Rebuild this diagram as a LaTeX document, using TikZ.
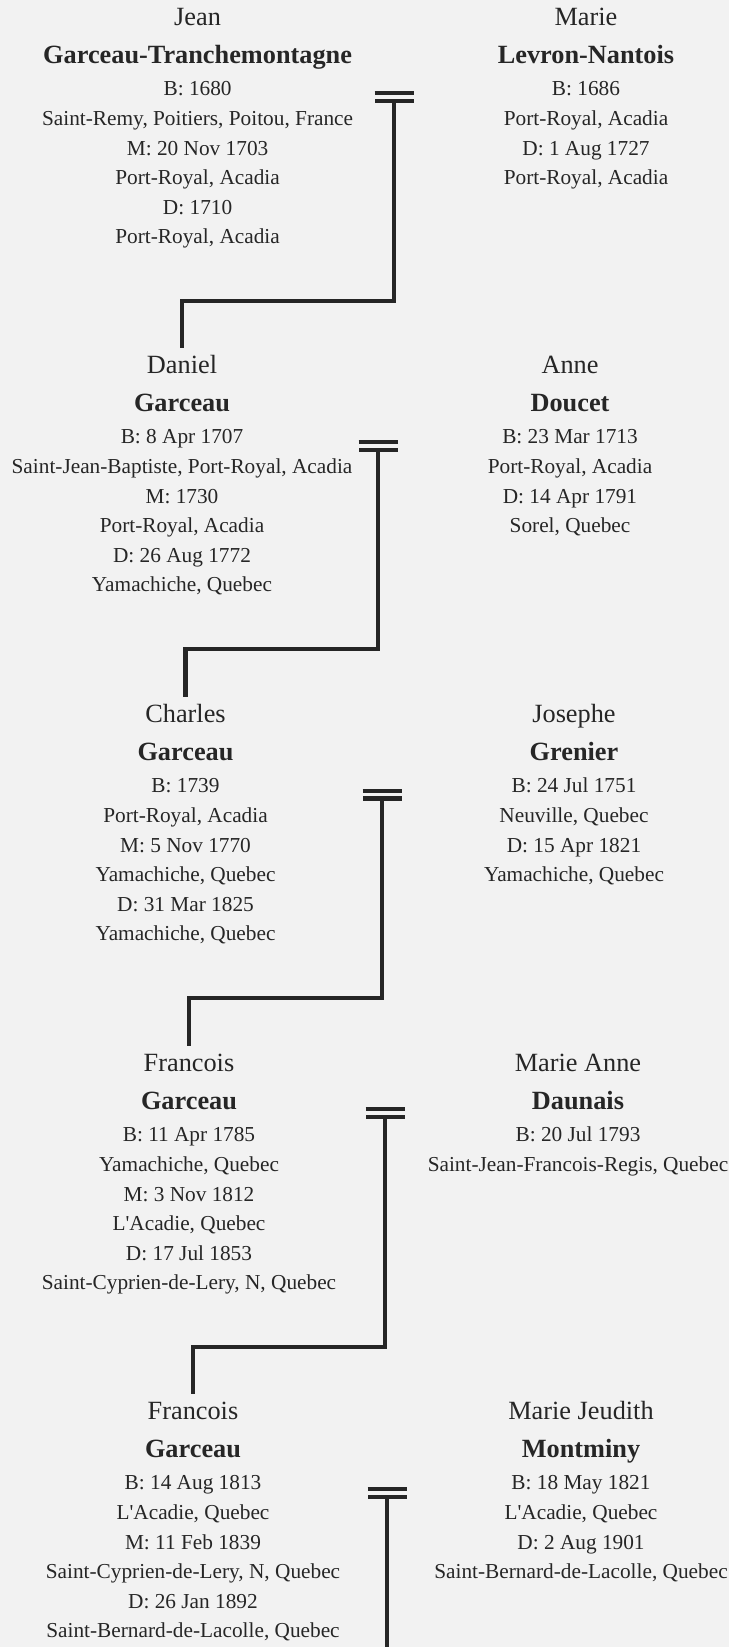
\documentclass[tikz,border=0pt]{standalone}
\usepackage{fontspec}
\setmainfont{Liberation Serif}
\definecolor{paper}{HTML}{F2F2F2}
\definecolor{ink}{HTML}{262626}
\newcommand{\givenname}[1]{{\fontsize{26.3}{29.6}\selectfont\strut #1}}
\newcommand{\familyname}[1]{{\fontsize{26.3}{29.6}\selectfont\bfseries #1}}
\tikzstyle{person}=[align=center, inner sep=0pt, anchor=north, text=ink, font=\fontsize{21.3}{29.6}\selectfont]
\tikzstyle{wed}=[draw=ink, line width=4.2pt, double=paper, double distance=3.6pt]
\tikzstyle{descent}=[draw=ink, line width=4.3pt, shorten >=5pt]

\begin{document}
\begin{tikzpicture}[x=1pt, y=-1pt]
\fill[paper] (0,0) rectangle (729,1647);
\useasboundingbox (0,0) rectangle (729,1647);
% Couples
    \node[person] (jean) at (197.6,5) {\givenname{Jean}\\[7.9pt]
        \familyname{Garceau-Tranchemontagne}\\[2.8pt]
        B: 1680\\ Saint-Remy, Poitiers, Poitou, France\\ M: 20 Nov 1703\\
        Port-Royal, Acadia\\ D: 1710\\ Port-Royal, Acadia};
    \node[person] (marie) at (586,5) {\givenname{Marie}\\[7.9pt]
        \familyname{Levron-Nantois}\\[2.8pt]
        B: 1686\\ Port-Royal, Acadia\\ D: 1 Aug 1727\\ Port-Royal, Acadia};
    \node[person] (daniel) at (182,353) {\givenname{Daniel}\\[7.9pt]
        \familyname{Garceau}\\[2.8pt]
        B: 8 Apr 1707\\ Saint-Jean-Baptiste, Port-Royal, Acadia\\ M: 1730\\
        Port-Royal, Acadia\\ D: 26 Aug 1772\\ Yamachiche, Quebec};
    \node[person] (anne) at (570,353) {\givenname{Anne}\\[7.9pt]
        \familyname{Doucet}\\[2.8pt]
        B: 23 Mar 1713\\ Port-Royal, Acadia\\ D: 14 Apr 1791\\ Sorel, Quebec};
    \node[person] (charles) at (185.5,702) {\givenname{Charles}\\[7.9pt]
        \familyname{Garceau}\\[2.8pt]
        B: 1739\\ Port-Royal, Acadia\\ M: 5 Nov 1770\\
        Yamachiche, Quebec\\ D: 31 Mar 1825\\ Yamachiche, Quebec};
    \node[person] (josephe) at (574,702) {\givenname{Josephe}\\[7.9pt]
        \familyname{Grenier}\\[2.8pt]
        B: 24 Jul 1751\\ Neuville, Quebec\\ D: 15 Apr 1821\\ Yamachiche, Quebec};
    \node[person] (francois) at (189,1051) {\givenname{Francois}\\[7.9pt]
        \familyname{Garceau}\\[2.8pt]
        B: 11 Apr 1785\\ Yamachiche, Quebec\\ M: 3 Nov 1812\\
        L\textquotesingle Acadie, Quebec\\ D: 17 Jul 1853\\ Saint-Cyprien-de-Lery, N, Quebec};
    \node[person] (marieanne) at (578,1051) {\givenname{Marie Anne}\\[7.9pt]
        \familyname{Daunais}\\[2.8pt]
        B: 20 Jul 1793\\ Saint-Jean-Francois-Regis, Quebec};
    \node[person] (francoisjr) at (193,1399) {\givenname{Francois}\\[7.9pt]
        \familyname{Garceau}\\[2.8pt]
        B: 14 Aug 1813\\ L\textquotesingle Acadie, Quebec\\ M: 11 Feb 1839\\
        Saint-Cyprien-de-Lery, N, Quebec\\ D: 26 Jan 1892\\ Saint-Bernard-de-Lacolle, Quebec};
    \node[person] (jeudith) at (581,1399) {\givenname{Marie Jeudith}\\[7.9pt]
        \familyname{Montminy}\\[2.8pt]
        B: 18 May 1821\\ L\textquotesingle Acadie, Quebec\\ D: 2 Aug 1901\\ Saint-Bernard-de-Lacolle, Quebec};
% Marriage bars
    \coordinate (w1) at (394,101);
    \coordinate (w2) at (378,450);
    \coordinate (w3) at (382,798.5);
    \coordinate (w4) at (385,1117);
    \coordinate (w5) at (387,1497);
    \draw[wed] ([shift={(-19.5,-4)}]w1) -- ++(39,0);
    \draw[wed] ([shift={(-19.5,-4)}]w2) -- ++(39,0);
    \draw[wed] ([shift={(-19.5,-4)}]w3) -- ++(39,0);
    \draw[wed] ([shift={(-19.5,-4)}]w4) -- ++(39,0);
    \draw[wed] ([shift={(-19.5,-4)}]w5) -- ++(39,0);
% Lines of descent
    \draw[descent] (w1) -- ++(0,200) -| (daniel.north);
    \draw[descent] (w2) -- ++(0,199) -| (charles.north);
    \draw[descent] (w3) -- ++(0,199.5) -| (francois.north);
    \draw[descent] (w4) -- ++(0,230) -| (francoisjr.north);
    \draw[draw=ink, line width=4.3pt] (w5) -- ++(0,150);
\end{tikzpicture}
\end{document}
